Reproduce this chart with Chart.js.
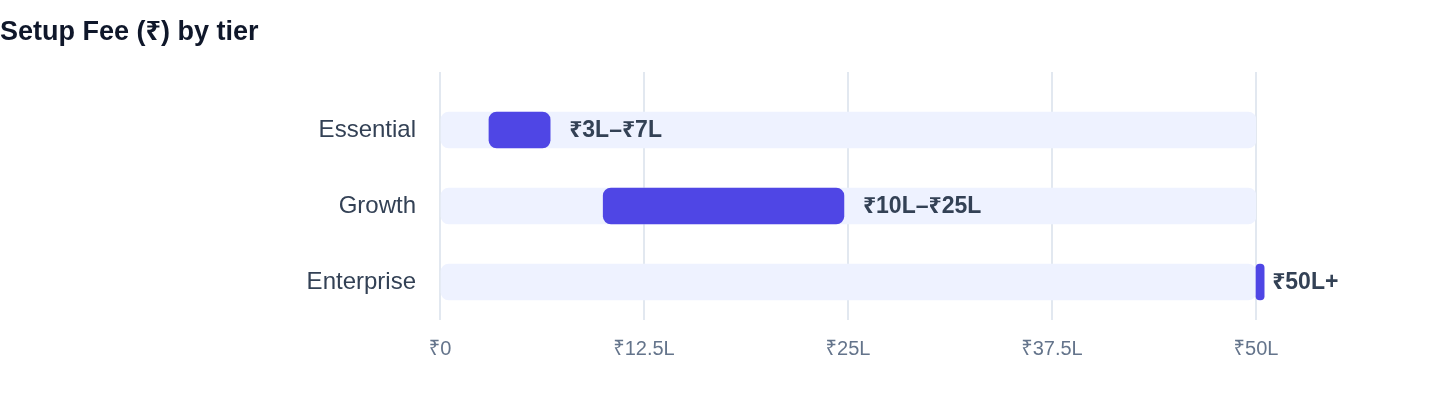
<!DOCTYPE html>
<html>
<head>
<meta charset="utf-8">
<script src="https://cdn.jsdelivr.net/npm/chart.js@4.4.1/dist/chart.umd.min.js"></script>
<style>
    body { margin: 0; background: #fff; }
    #wrap { position: relative; width: 1440px; height: 408px; }
    #titulo {
        position: absolute; left: 0; top: 18px; margin: 0;
        font: bold 27px 'Liberation Sans', 'Noto Sans', sans-serif;
        line-height: 1; color: #0f172a;
    }
    #chartFee { position: absolute; left: 0; top: 0; }
</style>
</head>
<body>
<div id="wrap">
    <canvas id="chartFee" width="1440" height="408"></canvas>
    <h3 id="titulo">Setup Fee (₹) by tier</h3>
</div>
<script>
// datos (valores en lakhs)
let tiers = ['Essential', 'Growth', 'Enterprise']
let feeMin = [3, 10, 50]
let feeMax = [6.75, 24.75, 50.5]
let feeTexto = ['₹3L–₹7L', '₹10L–₹25L', '₹50L+']
let escalaMax = 50
let pasoTicks = 12.5

let colorBarra = '#4f46e5'
let colorFondo = '#eef2ff'
let colorGrid = '#e2e8f0'

Chart.defaults.font.family = "'Liberation Sans', 'Noto Sans', sans-serif"

function etiquetaTick(v) {
    return v == 0 ? '₹0' : '₹' + v + 'L'
}

// texto al final de cada barra
const etiquetasBarra = {
    id: 'etiquetasBarra',
    afterDatasetsDraw(chart) {
        const ctx = chart.ctx
        const meta = chart.getDatasetMeta(0)
        ctx.save()
        ctx.font = "bold 23px 'Liberation Sans', 'Noto Sans', sans-serif"
        ctx.fillStyle = '#334155'
        ctx.textAlign = 'left'
        ctx.textBaseline = 'middle'
        meta.data.forEach(function (bar, i) {
            let ancho = Math.abs(bar.x - bar.base)
            let sep = ancho < 16 ? 8 : 19
            ctx.fillText(feeTexto[i], bar.x + sep, bar.y + 1)
        })
        ctx.restore()
    }
}

const data = {
    labels: tiers,
    datasets: [
        {
            label: 'Setup fee',
            data: tiers.map((t, i) => [feeMin[i], feeMax[i]]),
            backgroundColor: colorBarra,
            barThickness: 36,
            borderRadius: 8,
            borderSkipped: false,
            grouped: false,
            clip: false
        },
        {
            label: 'Rango',
            data: tiers.map(() => [0, escalaMax]),
            backgroundColor: colorFondo,
            barThickness: 36,
            borderRadius: 8,
            borderSkipped: false,
            grouped: false
        }
    ]
}

const config = {
    type: 'bar',
    data: data,
    options: {
        indexAxis: 'y',
        responsive: false,
        animation: false,
        devicePixelRatio: 1,
        layout: { padding: { top: 72, right: 184, bottom: 0, left: 0 } },
        plugins: {
            legend: { display: false },
            tooltip: { enabled: false },
            title: { display: false }
        },
        scales: {
            x: {
                type: 'linear',
                position: 'bottom',
                min: 0,
                max: escalaMax,
                ticks: {
                    stepSize: pasoTicks,
                    callback: etiquetaTick,
                    color: '#64748b',
                    font: { size: 20 },
                    padding: 17,
                    maxRotation: 0
                },
                grid: { color: colorGrid, lineWidth: 2, drawTicks: false },
                border: { display: false },
                afterFit: function (s) { s.height = 88 }
            },
            x2: {
                type: 'linear',
                position: 'top',
                min: 0,
                max: escalaMax,
                ticks: { display: false, stepSize: pasoTicks },
                grid: { color: colorGrid, lineWidth: 2, drawOnChartArea: false, drawTicks: true, tickLength: 20 },
                border: { display: false }
            },
            y: {
                type: 'category',
                grid: { display: false },
                border: { display: false },
                ticks: { color: '#334155', font: { size: 24 }, padding: 16 },
                afterFit: function (s) { s.width = 440 }
            }
        }
    },
    plugins: [etiquetasBarra]
}

let myChart = new Chart(document.getElementById('chartFee'), config)
</script>
</body>
</html>
